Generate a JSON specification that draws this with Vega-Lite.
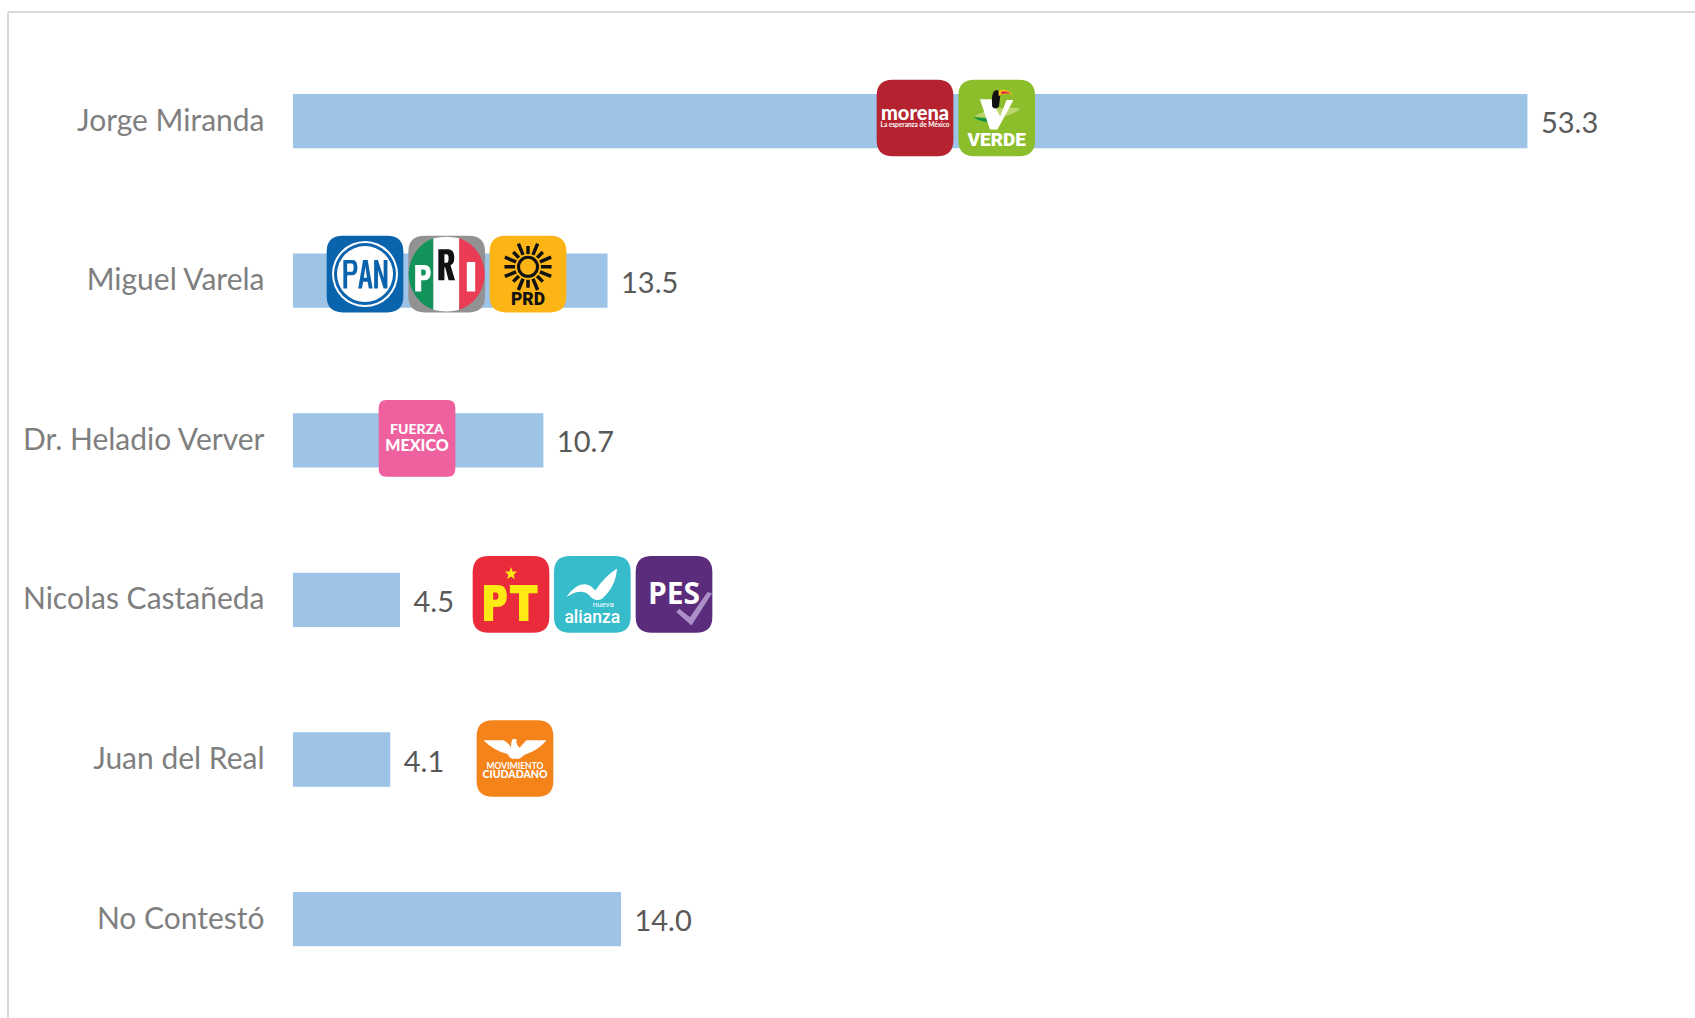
{
"$schema":"https://vega.github.io/schema/vega-lite/v6.json",
"width":1687,"height":1006,"autosize":{"type":"none"},
"padding":{"left":8,"top":12,"right":0,"bottom":0},
"background":"#ffffff",
"config":{"view":{"stroke":null},"text":{"font":"Lato"}},
"datasets":{
"rows":[
{"candidate":"Jorge Miranda","value":53.3,"label":"53.3"},
{"candidate":"Miguel Varela","value":13.58,"label":"13.5"},
{"candidate":"Dr. Heladio Verver","value":10.81,"label":"10.7"},
{"candidate":"Nicolas Castañeda","value":4.62,"label":"4.5"},
{"candidate":"Juan del Real","value":4.2,"label":"4.1"},
{"candidate":"No Contestó","value":14.16,"label":"14.0"}],
"logos":[
{"name":"morena","x":26.857,"r":0.981},
{"name":"verde","x":30.384,"r":0.981},
{"name":"pan","x":3.109,"r":1.959},
{"name":"pri","x":6.636,"r":1.959},
{"name":"prd","x":10.147,"r":1.959},
{"name":"fuerza","x":5.354,"r":2.988},
{"name":"pt","x":9.413,"r":3.966},
{"name":"alianza","x":12.923,"r":3.966},
{"name":"pes","x":16.451,"r":3.966},
{"name":"mc","x":9.585,"r":4.994}]
},
"resolve":{"scale":{"y":"independent"}},
"layer":[
{"data":{"values":[{"left":-12.306,"top":0.317}]},
 "mark":{"type":"rule","color":"#d9d9d9","strokeWidth":2},
 "encoding":{"x":{"field":"left","type":"quantitative","axis":null,"scale":{"domain":[-12.306,60.535],"nice":false,"zero":false}}}},
{"data":{"values":[{"left":-12.306,"top":0.317}]},
 "mark":{"type":"rule","color":"#d9d9d9","strokeWidth":2},
 "encoding":{"y":{"field":"top","type":"quantitative","axis":null,"scale":{"domain":[6.62,0.317],"nice":false,"zero":false}}}},
{"data":{"name":"rows"},
 "encoding":{
  "y":{"field":"candidate","type":"nominal","sort":null,"title":null,
   "scale":{"range":[29.3,986.9],"paddingInner":0.66,"paddingOuter":0.33},
   "axis":{"orient":"left","offset":-285,"labelPadding":29,"labelOffset":0.5,"domain":false,"ticks":false,"grid":false,"labelFont":"Lato","labelFontSize":30,"labelColor":"#7f7f7f","labelLimit":400}},
  "x":{"field":"value","type":"quantitative","axis":null,"scale":{"domain":[-12.306,60.535],"nice":false,"zero":false}}},
 "layer":[
  {"mark":{"type":"bar","color":"#9dc3e6"},"encoding":{"x2":{"datum":0}}},
  {"mark":{"type":"text","align":"left","baseline":"middle","dx":13.5,"dy":3,"fontSize":29,"color":"#595959","font":"Lato"},"encoding":{"text":{"field":"label"}}}
 ]},
{"data":{"name":"logos"},
 "encoding":{
  "x":{"field":"x","type":"quantitative","axis":null,"scale":{"domain":[-12.306,60.535],"nice":false,"zero":false}},
  "y":{"field":"r","type":"quantitative","axis":null,"scale":{"domain":[6.62,0.317],"nice":false,"zero":false}}},
 "layer":[
  {"mark":{"type":"point","filled":true,"opacity":1,"size":5880,"shape":"M -.58 -1 L .58 -1 Q 1 -1 1 -.58 L 1 .58 Q 1 1 .58 1 L -.58 1 Q -1 1 -1 .58 L -1 -.58 Q -1 -1 -.58 -1 Z"},
   "transform":[{"filter":"datum.name !== 'fuerza'"}],
   "encoding":{"color":{"field":"name","type":"nominal","legend":null,"scale":{"domain":["morena","verde","pan","pri","prd","pt","alianza","pes","mc"],"range":["#b4232f","#8cbd2a","#0a64ad","#929292","#fdb515","#e92b3b","#36bccb","#5b2b7c","#f4831a"]}}}},
  {"transform":[{"filter":"datum.name === 'fuerza'"}],"mark":{"type":"point","filled":true,"opacity":1,"size":5880,"color":"#ee609e","shape":"M -.8 -1 L .8 -1 Q 1 -1 1 -.8 L 1 .8 Q 1 1 .8 1 L -.8 1 Q -1 1 -1 .8 L -1 -.8 Q -1 -1 -.8 -1 Z"}},

  {"transform":[{"filter":"datum.name === 'morena'"}],"mark":{"type":"text","text":"morena","font":"Lato","fontWeight":900,"fontSize":20,"color":"#ffffff","dy":-4}},
  {"transform":[{"filter":"datum.name === 'morena'"}],"mark":{"type":"text","text":"La esperanza de México","font":"Lato","fontWeight":700,"fontSize":6.5,"color":"#ffffff","dy":7}},

  {"transform":[{"filter":"datum.name === 'verde'"}],"mark":{"type":"point","filled":true,"opacity":1,"size":5776,"color":"#b9d66f","shape":"M -.6 -.05 Q 0 -.35 .63 -.25 Q .2 .1 -.6 -.05 Z"}},
  {"transform":[{"filter":"datum.name === 'verde'"}],"mark":{"type":"point","filled":true,"opacity":1,"size":5776,"color":"#0d9448","shape":"M -.62 -.02 Q -.2 .02 .12 .02 L -.02 .13 Q -.4 .12 -.62 -.02 Z"}},
  {"transform":[{"filter":"datum.name === 'verde'"}],"mark":{"type":"point","filled":true,"opacity":1,"size":5776,"color":"#ffffff","shape":"M -.44 -.49 L -.14 -.49 L .09 -.04 L .26 -.47 L .44 -.47 L .02 .3 L -.18 .3 Z"}},
  {"transform":[{"filter":"datum.name === 'verde'"}],"mark":{"type":"point","filled":true,"opacity":1,"size":5776,"color":"#111111","shape":"M -.12 -.3 Q -.15 -.65 -.05 -.72 Q .1 -.75 .1 -.65 L .06 -.3 Q -.05 -.2 -.12 -.3 Z"}},
  {"transform":[{"filter":"datum.name === 'verde'"}],"mark":{"type":"point","filled":true,"opacity":1,"size":5776,"color":"#f7c51e","shape":"M .05 -.72 Q .25 -.8 .44 -.62 Q .2 -.66 .05 -.58 Z"}},
  {"transform":[{"filter":"datum.name === 'verde'"}],"mark":{"type":"point","filled":true,"opacity":1,"size":5776,"color":"#d9363e","shape":"M .12 -.7 Q .28 -.72 .38 -.64 Q .22 -.66 .12 -.62 Z"}},
  {"transform":[{"filter":"datum.name === 'verde'"}],"mark":{"type":"text","text":"VERDE","font":"Roboto","fontWeight":900,"fontSize":19,"color":"#ffffff","dy":22}},

  {"transform":[{"filter":"datum.name === 'pan'"}],"mark":{"type":"circle","opacity":1,"size":4356,"color":"#ffffff"}},
  {"transform":[{"filter":"datum.name === 'pan'"}],"mark":{"type":"circle","opacity":1,"size":3844,"color":"#0a64ad"}},
  {"transform":[{"filter":"datum.name === 'pan'"}],"mark":{"type":"circle","opacity":1,"size":3136,"color":"#ffffff"}},
  {"transform":[{"filter":"datum.name === 'pan'"}],"mark":{"type":"point","filled":true,"opacity":1,"size":5776,"color":"#0a64ad","shape":"M -.57 .38 L -.57 -.37 L -.32 -.37 Q -.2 -.37 -.2 -.17 Q -.2 .03 -.32 .03 L -.47 .03 L -.47 .38 Z M -.47 -.28 L -.47 -.06 L -.35 -.06 Q -.3 -.06 -.3 -.17 Q -.3 -.28 -.35 -.28 Z M -.18 .38 L -.05 -.37 L .07 -.37 L .2 .38 L .1 .38 L .07 .2 L -.05 .2 L -.08 .38 Z M -.03 .1 L .05 .1 L .01 -.2 Z M .24 .38 L .24 -.37 L .34 -.37 L .49 .1 L .49 -.37 L .59 -.37 L .59 .38 L .49 .38 L .34 -.1 L .34 .38 Z"}},

  {"transform":[{"filter":"datum.name === 'pri'"}],"mark":{"type":"point","filled":true,"opacity":1,"size":5776,"color":"#12935a","shape":"M -.35 -.94 C -.75 -.8 -1 -.4 -1 0 C -1 .4 -.75 .8 -.35 .94 Z"}},
  {"transform":[{"filter":"datum.name === 'pri'"}],"mark":{"type":"point","filled":true,"opacity":1,"size":5776,"color":"#ffffff","shape":"M -.35 -.94 Q 0 -1.03 .33 -.94 L .33 .94 Q 0 1.03 -.35 .94 Z"}},
  {"transform":[{"filter":"datum.name === 'pri'"}],"mark":{"type":"point","filled":true,"opacity":1,"size":5776,"color":"#ea3c55","shape":"M .33 -.94 C .75 -.8 1 -.4 1 0 C 1 .4 .75 .8 .33 .94 Z"}},
  {"transform":[{"filter":"datum.name === 'pri'"}],"mark":{"type":"point","filled":true,"opacity":1,"size":5776,"color":"#ffffff","shape":"M -.83 .46 L -.83 -.24 L -.58 -.24 Q -.42 -.24 -.42 -.04 Q -.42 .16 -.58 .16 L -.67 .16 L -.67 .46 Z M -.67 -.12 L -.67 .04 L -.6 .04 Q -.55 .04 -.55 -.04 Q -.55 -.12 -.6 -.12 Z M .53 -.32 L .75 -.32 L .75 .46 L .53 .46 Z"}},
  {"transform":[{"filter":"datum.name === 'pri'"}],"mark":{"type":"point","filled":true,"opacity":1,"size":5776,"color":"#111111","shape":"M -.22 .16 L -.22 -.65 L .04 -.65 Q .2 -.65 .2 -.42 Q .2 -.27 .1 -.23 L .22 .16 L .05 .16 L -.04 -.18 L -.06 -.18 L -.06 .16 Z M -.06 -.52 L -.06 -.3 L 0 -.3 Q .05 -.3 .05 -.41 Q .05 -.52 0 -.52 Z"}},

  {"transform":[{"filter":"datum.name === 'prd'"}],"mark":{"type":"point","filled":false,"opacity":1,"size":5776,"color":"#111111","strokeWidth":3,"shape":"M .25 -.19 C .25 -.052 .138 .06 0 .06 C -.138 .06 -.25 -.052 -.25 -.19 C -.25 -.328 -.138 -.44 0 -.44 C .138 -.44 .25 -.328 .25 -.19 Z"}},
  {"transform":[{"filter":"datum.name === 'prd'"}],"mark":{"type":"point","filled":false,"opacity":1,"size":5776,"color":"#111111","strokeWidth":3.5,"shape":"M .34 -.19 L .62 -.19 M .314 -.06 L .61 .063 M .24 .05 L .389 .199 M .13 .124 L .253 .42 M 0 .15 L 0 .36 M -.13 .124 L -.253 .42 M -.24 .05 L -.389 .199 M -.314 -.06 L -.61 .063 M -.34 -.19 L -.62 -.19 M -.314 -.32 L -.61 -.443 M -.24 -.43 L -.389 -.579 M -.13 -.504 L -.253 -.8 M 0 -.53 L 0 -.74 M .13 -.504 L .253 -.8 M .24 -.43 L .389 -.579 M .314 -.32 L .61 -.443"}},
  {"transform":[{"filter":"datum.name === 'prd'"}],"mark":{"type":"text","text":"PRD","font":"Roboto","fontWeight":900,"fontSize":17.5,"color":"#111111","dy":26}},

  {"transform":[{"filter":"datum.name === 'fuerza'"}],"mark":{"type":"text","text":"FUERZA","font":"Lato","fontWeight":900,"fontSize":14,"color":"#ffffff","dy":-8}},
  {"transform":[{"filter":"datum.name === 'fuerza'"}],"mark":{"type":"text","text":"MEXICO","font":"Lato","fontWeight":900,"fontSize":16,"color":"#ffffff","dy":8}},

  {"transform":[{"filter":"datum.name === 'pt'"}],"mark":{"type":"point","filled":true,"opacity":1,"size":5776,"color":"#fdea14","shape":"M -.71 .7 L -.71 -.25 L -.35 -.25 Q -.11 -.25 -.11 .05 Q -.11 .33 -.35 .33 L -.47 .33 L -.47 .7 Z M -.47 -.05 L -.47 .14 L -.4 .14 Q -.33 .14 -.33 .05 Q -.33 -.05 -.4 -.05 Z M -.03 -.25 L .7 -.25 L .7 -.03 L .46 -.03 L .46 .7 L .21 .7 L .21 -.03 L -.03 -.03 Z M 0 -.72 L .04 -.6 L .16 -.6 L .07 -.52 L .1 -.4 L 0 -.47 L -.1 -.4 L -.07 -.52 L -.16 -.6 L -.04 -.6 Z"}},

  {"transform":[{"filter":"datum.name === 'alianza'"}],"mark":{"type":"point","filled":true,"opacity":1,"size":5776,"color":"#ffffff","shape":"M .65 -.68 Q .62 -.2 .25 .12 Q .05 .2 -.08 .02 Q -.3 -.18 -.68 .07 Q -.4 -.35 -.1 -.25 Q .02 -.2 .08 -.1 Q .3 -.45 .65 -.68 Z"}},
  {"transform":[{"filter":"datum.name === 'alianza'"}],"mark":{"type":"text","text":"alianza","font":"Roboto","fontWeight":500,"fontSize":17.5,"color":"#ffffff","dy":24}},
  {"transform":[{"filter":"datum.name === 'alianza'"}],"mark":{"type":"text","text":"nueva","font":"Roboto","fontSize":8,"color":"#ffffff","dx":11,"dy":11}},

  {"transform":[{"filter":"datum.name === 'pes'"}],"mark":{"type":"text","text":"PES","font":"Open Sans","fontWeight":700,"fontSize":30,"color":"#ffffff","dy":1}},
  {"transform":[{"filter":"datum.name === 'pes'"}],"mark":{"type":"point","filled":true,"opacity":1,"size":5776,"color":"#ab8fc6","shape":"M .06 .46 L .14 .38 L .42 .6 L .88 -.06 L 1 -.03 L .46 .82 Z"}},

  {"transform":[{"filter":"datum.name === 'mc'"}],"mark":{"type":"point","filled":true,"opacity":1,"size":5776,"color":"#ffffff","shape":"M -.83 -.48 L -.3 -.48 Q -.12 -.38 -.1 -.25 Q -.12 -.45 -.05 -.52 L .05 -.5 Q 0 -.4 .12 -.28 L .3 -.48 L .83 -.48 Q .6 -.2 .25 -.1 Q .1 .05 0 0 Q -.1 .05 -.2 -.12 Q -.55 -.2 -.83 -.48 Z"}},
  {"transform":[{"filter":"datum.name === 'mc'"}],"mark":{"type":"text","text":"MOVIMIENTO","font":"Lato","fontWeight":700,"fontSize":8.5,"color":"#ffffff","dy":8}},
  {"transform":[{"filter":"datum.name === 'mc'"}],"mark":{"type":"text","text":"CIUDADANO","font":"Lato","fontWeight":900,"fontSize":10.5,"color":"#ffffff","dy":17}}
 ]}
]
}
